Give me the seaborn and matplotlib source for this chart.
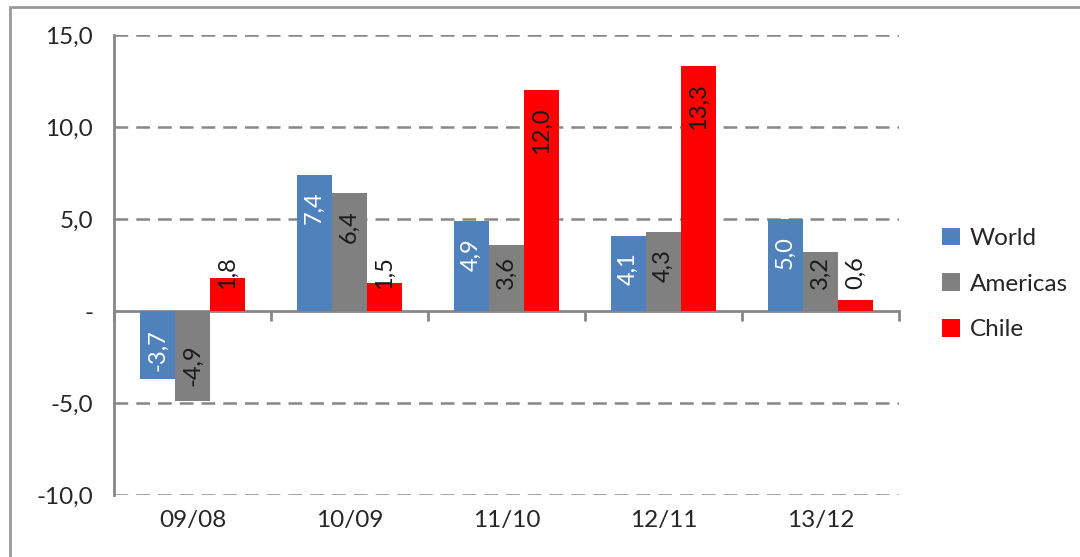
import numpy as np
import pandas as pd
import seaborn as sns
import matplotlib.pyplot as plt
from matplotlib.patches import Rectangle
from matplotlib.ticker import FuncFormatter

# Data
periods = ['09/08', '10/09', '11/10', '12/11', '13/12']
world = [-3.7, 7.4, 4.9, 4.1, 5.0]
americas = [-4.9, 6.4, 3.6, 4.3, 3.2]
chile = [1.8, 1.5, 12.0, 13.3, 0.6]
regions = ['World', 'Americas', 'Chile']
colors = ['#4F81BD', '#808080', '#FF0000']
label_colors = ['white', '#1a1a1a', '#1a1a1a']

df = pd.DataFrame({
    'period': periods * 3,
    'region': [r for r in regions for _ in periods],
    'value': world + americas + chile,
})

sns.set_style('white')
plt.rcParams['font.family'] = ['Lato', 'DejaVu Sans']
grey = '#878787'
txt = '#262626'

fig = plt.figure(figsize=(10.8, 5.57), dpi=100)
ax = fig.add_axes([114 / 1080, 1 - 495 / 557, (899 - 114) / 1080, 460 / 557])

sns.barplot(data=df, x='period', y='value', hue='region', palette=colors,
            width=0.67, saturation=1, linewidth=0, ax=ax, legend=True)

ax.set_ylim(-10, 15)
ax.set_xlim(-0.5, 4.5)
ax.set_yticks(np.arange(-10, 16, 5))
ax.yaxis.set_major_formatter(FuncFormatter(
    lambda v, p: '-' if abs(v) < 1e-9 else f'{v:.1f}'.replace('.', ',')))
for y in [-10, -5, 5, 10, 15]:
    ax.axhline(y, color=grey, lw=1.8, ls=(0, (5.5, 3.2)), zorder=0)

for s in ['top', 'right', 'bottom']:
    ax.spines[s].set_visible(False)
ax.spines['left'].set_color(grey)
ax.spines['left'].set_linewidth(2)
ax.tick_params(axis='y', direction='out', length=9, width=2, color=grey,
               labelsize=17.5, labelcolor=txt, pad=6)
ax.tick_params(axis='x', length=0, labelsize=17.5, labelcolor=txt, pad=11)
ax.set_xlabel('')
ax.set_ylabel('')

# zero line with separators between categories
sec = ax.secondary_xaxis(0, transform=ax.transData)
sec.set_xticks(np.arange(-0.5, 5, 1))
sec.tick_params(direction='out', length=7, width=2, color=grey, labelbottom=False)
sec.spines['bottom'].set_color(grey)
sec.spines['bottom'].set_linewidth(2)

# rotated value labels
for cont, col in zip(ax.containers, label_colors):
    for bar in cont:
        v = bar.get_height()
        x = bar.get_x() + bar.get_width() / 2
        y = max(3.0, v - 0.92) if v >= 0 else min(-1.0, v + 3.1)
        ax.text(x, y, f'{v:.1f}'.replace('.', ','), rotation=90, ha='center',
                va='top', color=col, fontsize=17)

ax.legend(loc='center left', bbox_to_anchor=(930 / 1080, 1 - 284 / 557),
          bbox_transform=fig.transFigure, frameon=False, fontsize=17.5,
          handlelength=0.75, handleheight=0.75, handletextpad=0.4,
          labelspacing=1.0, labelcolor=txt, borderpad=0)

# chart border
fig.patches.append(Rectangle((10 / 1080, -0.02), 1.0, 1 - 7 / 557 + 0.02,
                             transform=fig.transFigure, fill=False,
                             edgecolor='#9a9a9a', lw=2))

fig.savefig('out.png', dpi=100)
